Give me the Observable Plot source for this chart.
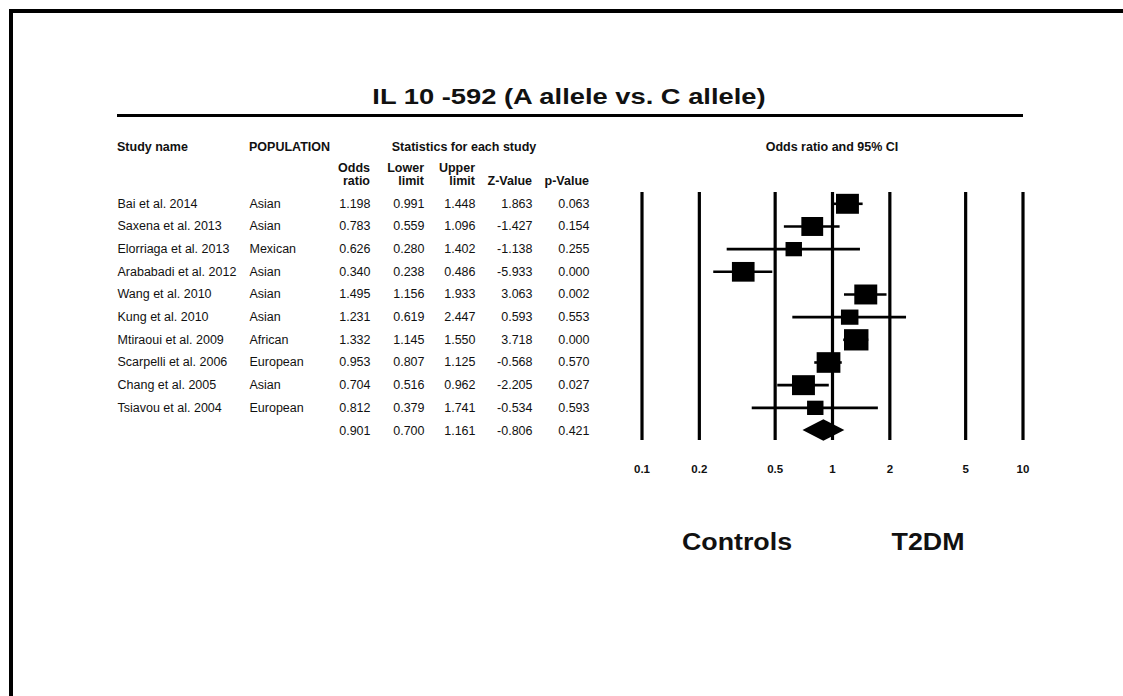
<!DOCTYPE html>
<html><head><meta charset="utf-8">
<script src="https://cdn.jsdelivr.net/npm/d3@7"></script>
<script src="https://cdn.jsdelivr.net/npm/@observablehq/plot@0.6"></script>
<style>
body{margin:0;background:#fff;}
#wrap{position:relative;width:1123px;height:696px;overflow:hidden;background:#fff;}
#frame{position:absolute;left:9px;top:9px;width:1200px;height:800px;border-left:4px solid #000;border-top:4px solid #000;}
#rule{position:absolute;left:117px;top:114px;width:906px;height:3px;background:#000;}
.lbl{position:absolute;white-space:nowrap;line-height:1;color:#111;font-family:"Liberation Sans",Arial,sans-serif;}
.b{font-weight:bold;}
#plot{position:absolute;left:0;top:0;}
.fp g[aria-label="x-axis tick label"]{font-weight:bold;font-size:11.5px;}
</style></head><body>
<div id="wrap"><div id="frame"></div><div id="rule"></div><div id="plot"></div></div>
<script>
// ---- data ----
const studies = ["Bai et al. 2014","Saxena et al. 2013","Elorriaga et al. 2013","Arababadi et al. 2012","Wang et al. 2010","Kung et al. 2010","Mtiraoui et al. 2009","Scarpelli et al. 2006","Chang et al. 2005","Tsiavou et al. 2004"];
const populations = ["Asian","Asian","Mexican","Asian","Asian","Asian","African","European","Asian","European"];
const oddsRatio = [1.198,0.783,0.626,0.340,1.495,1.231,1.332,0.953,0.704,0.812];
const lowerLimit = [0.991,0.559,0.280,0.238,1.156,0.619,1.145,0.807,0.516,0.379];
const upperLimit = [1.448,1.096,1.402,0.486,1.933,2.447,1.550,1.125,0.962,1.741];
const zValues = [1.863,-1.427,-1.138,-5.933,3.063,0.593,3.718,-0.568,-2.205,-0.534];
const pValues = [0.063,0.154,0.255,0.000,0.002,0.553,0.000,0.570,0.027,0.593];
const relWeights = [11.5,10.4,5.9,11.2,11.5,6.7,13.1,12.3,11.5,5.9]; // % (from square sizes)
const summaryStats = {or:0.901, lower:0.700, upper:1.161, z:-0.806, p:0.421};
const axisTicks = [0.1,0.2,0.5,1,2,5,10];
const titleText = "IL 10 -592 (A allele vs. C allele)";
const leftLabel = "Controls", rightLabel = "T2DM";

// ---- tables built from the arrays ----
const rows = studies.map((s,i)=>({i, study:s, pop:populations[i], or:oddsRatio[i], lower:lowerLimit[i], upper:upperLimit[i], z:zValues[i], p:pValues[i], w:relWeights[i]}));
const sumRow = {i:studies.length, study:"", pop:"", ...summaryStats};
const tableRows = [...rows, sumRow];
const diamond = [
  {y: sumRow.i - 0.47, x1: sumRow.or, x2: sumRow.or},
  {y: sumRow.i, x1: sumRow.lower, x2: sumRow.upper},
  {y: sumRow.i + 0.47, x1: sumRow.or, x2: sumRow.or}
];
const f3 = v => v.toFixed(3);

const boxSymbol = {draw(ctx, size){ const r = Math.sqrt(size/Math.PI), w = r*1.15;
  ctx.moveTo(-w,-r); ctx.lineTo(w,-r); ctx.lineTo(w,r); ctx.lineTo(-w,r); ctx.closePath(); }};

const txt = {fontSize:12.5, fill:"#111", frameAnchor:"left", y:"i"};
const chart = Plot.plot({
  width:1123, height:696,
  marginTop:192, marginBottom:256, marginLeft:0, marginRight:0,
  className:"fp",
  style:{fontFamily:"Liberation Sans, Arial, sans-serif", background:"transparent", color:"#111"},
  x:{type:"log", domain:[0.1,10], range:[641.5,1022.5]},
  y:{type:"linear", domain:[0,10], range:[203.3,430], axis:null},
  r:{type:"sqrt", domain:[0, d3.max(relWeights)], range:[0, 10.65]},
  marks:[
    Plot.ruleX(axisTicks, {stroke:"#000", strokeWidth:3.2}),
    Plot.ruleY(rows, {y:"i", x1:"lower", x2:"upper", stroke:"#000", strokeWidth:2.6}),
    Plot.dot(rows, {x:"or", y:"i", r:"w", symbol:boxSymbol, fill:"#000", stroke:null}),
    Plot.areaX(diamond, {y:"y", x1:"x1", x2:"x2", fill:"#000"}),
    Plot.axisX({ticks:axisTicks, tickSize:0, tickPadding:24, tickFormat:d=>String(d), label:null,
      fontSize:11.5, fontWeight:"bold", fill:"#111"}),
    Plot.text(tableRows, {...txt, text:"study", dx:117, textAnchor:"start"}),
    Plot.text(tableRows, {...txt, text:"pop", dx:249, textAnchor:"start"}),
    Plot.text(tableRows, {...txt, text:d=>f3(d.or), dx:370, textAnchor:"end"}),
    Plot.text(tableRows, {...txt, text:d=>f3(d.lower), dx:424, textAnchor:"end"}),
    Plot.text(tableRows, {...txt, text:d=>f3(d.upper), dx:475, textAnchor:"end"}),
    Plot.text(tableRows, {...txt, text:d=>f3(d.z), dx:532, textAnchor:"end"}),
    Plot.text(tableRows, {...txt, text:d=>f3(d.p), dx:589, textAnchor:"end"})
  ]
});
document.getElementById("plot").appendChild(chart);

// ---- HTML titles / headers ----
const wrap = document.getElementById("wrap");
function lbl(t, x, y, anchor, size, bold, sx){
  const d = document.createElement("div");
  d.className = "lbl" + (bold ? " b" : "");
  d.textContent = t;
  d.style.left = x + "px"; d.style.top = y + "px"; d.style.fontSize = size + "px";
  const tx = anchor === "middle" ? "-50%" : anchor === "end" ? "-100%" : "0";
  const origin = anchor === "middle" ? "center" : anchor === "end" ? "right" : "left";
  d.style.transformOrigin = origin + " center";
  d.style.transform = `translate(${tx},-50%)` + (sx ? ` scaleX(${sx})` : "");
  wrap.appendChild(d);
}
lbl(titleText, 569, 97, "middle", 22.4, true, 1.22);
lbl("Study name", 117, 147, "start", 12.5, true);
lbl("POPULATION", 249, 147, "start", 12.5, true);
lbl("Statistics for each study", 464, 147, "middle", 12.5, true);
lbl("Odds ratio and 95% CI", 832, 147, "middle", 12.5, true);
lbl("Odds", 370, 168, "end", 12.5, true);
lbl("ratio", 370, 181, "end", 12.5, true);
lbl("Lower", 424, 168, "end", 12.5, true);
lbl("limit", 424, 181, "end", 12.5, true);
lbl("Upper", 475, 168, "end", 12.5, true);
lbl("limit", 475, 181, "end", 12.5, true);
lbl("Z-Value", 532, 181, "end", 12.5, true);
lbl("p-Value", 589, 181, "end", 12.5, true);
lbl(leftLabel, 737, 543, "middle", 23.3, true, 1.15);
lbl(rightLabel, 928, 543, "middle", 23.3, true, 1.15);
</script>
</body></html>
